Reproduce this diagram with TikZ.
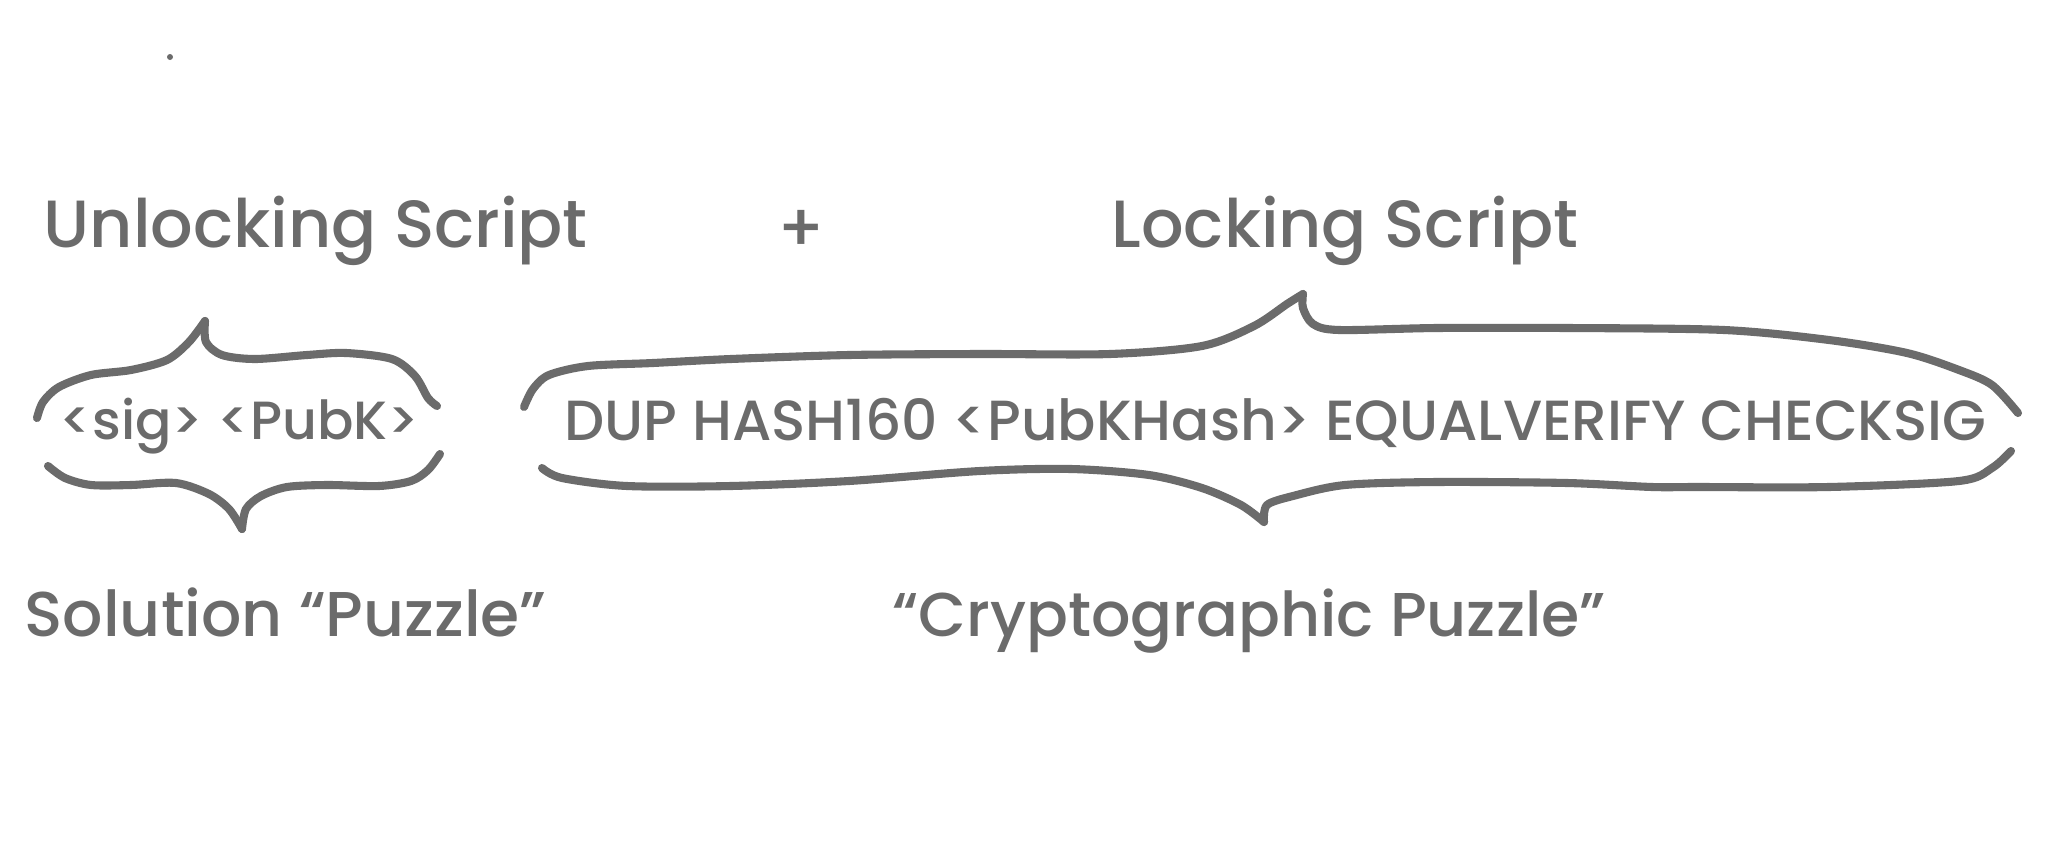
\documentclass[tikz,border=0pt]{standalone}
\usepackage{fontspec}
\setmainfont{Poppins}[UprightFont=* Medium]
\usepackage{xcolor}
\usepackage{tikz}
\usetikzlibrary{positioning}

\definecolor{ink}{HTML}{6B6B6B}

\begin{document}
\begin{tikzpicture}[
    title/.style={anchor=base west, inner sep=0, text=ink, font=\fontsize{19}{22}\selectfont},
    code/.style={anchor=base west, inner sep=0, text=ink, font=\fontsize{16.1}{19}\selectfont},
    brace/.style={draw=ink, line width=2.3pt, line cap=round, line join=round}
]
\useasboundingbox (0,0) rectangle (20.48,-8.57);

\node[circle, fill=ink, inner sep=0, minimum size=0.06cm] (dot) at (1.70,-0.57) {};

\node[title] (unlock) at (0.43,-2.47) {Unlocking Script};
\node[text=ink, font=\fontsize{19}{22}\selectfont] (plus) at (8.01,-2.31) {+};
\node[title] (lock) at (11.11,-2.47) {Locking Script};

\node[code, font=\fontsize{15.3}{18}\selectfont] (sig) at (0.59,-4.39) {<sig> <PubK>};
\node[code] (script) at (5.64,-4.40) {DUP HASH160 <PubKHash> EQUALVERIFY CHECKSIG};

\node[title, font=\fontsize{18}{22}\selectfont] (solution) at (0.24,-6.36) {Solution “Puzzle”};
\node[title, font=\fontsize{17.6}{22}\selectfont] (puzzle) at (8.92,-6.36) {“Cryptographic Puzzle”};

% hand drawn braces
\draw[brace] plot[smooth, tension=0.5] coordinates {(0.37,-4.18) (0.43,-4.02) (0.59,-3.87) (0.91,-3.75) (1.31,-3.70) (1.67,-3.60) (1.89,-3.42) (2.05,-3.21)};
\draw[brace] plot[smooth, tension=0.5] coordinates {(2.05,-3.21) (2.06,-3.42) (2.22,-3.55) (2.55,-3.59) (3.07,-3.55) (3.46,-3.53) (3.92,-3.59) (4.15,-3.76) (4.28,-3.98) (4.37,-4.06)};
\draw[brace] plot[smooth, tension=0.5] coordinates {(0.48,-4.66) (0.65,-4.78) (0.91,-4.85) (1.31,-4.85) (1.76,-4.83) (2.09,-4.94) (2.29,-5.09) (2.42,-5.29)};
\draw[brace] plot[smooth, tension=0.5] coordinates {(2.42,-5.29) (2.46,-5.09) (2.61,-4.96) (2.87,-4.87) (3.27,-4.85) (3.79,-4.86) (4.11,-4.81) (4.28,-4.70) (4.40,-4.54)};

\draw[brace] plot[smooth, tension=0.5] coordinates {(5.24,-4.07) (5.33,-3.89) (5.49,-3.75) (5.88,-3.66) (6.53,-3.63) (7.31,-3.59) (8.49,-3.55) (9.80,-3.54) (11.10,-3.54) (12.02,-3.46) (12.54,-3.26) (12.87,-3.04) (13.03,-2.94)};
\draw[brace] plot[smooth, tension=0.5] coordinates {(13.03,-2.94) (13.03,-3.08) (13.13,-3.24) (13.39,-3.30) (14.37,-3.28) (15.67,-3.28) (17.24,-3.30) (18.29,-3.40) (19.07,-3.53) (19.59,-3.70) (19.92,-3.85) (20.18,-4.13)};
\draw[brace] plot[smooth, tension=0.5] coordinates {(5.42,-4.68) (5.62,-4.78) (6.27,-4.86) (7.31,-4.86) (8.49,-4.81) (9.80,-4.71) (10.71,-4.69) (11.49,-4.75) (12.02,-4.88) (12.41,-5.05) (12.64,-5.22)};
\draw[brace] plot[smooth, tension=0.5] coordinates {(12.64,-5.22) (12.67,-5.05) (12.93,-4.96) (13.45,-4.85) (14.37,-4.82) (15.67,-4.83) (16.52,-4.87) (16.98,-4.87) (18.29,-4.87) (19.59,-4.81) (19.92,-4.68) (20.11,-4.51)};

\end{tikzpicture}
\end{document}
